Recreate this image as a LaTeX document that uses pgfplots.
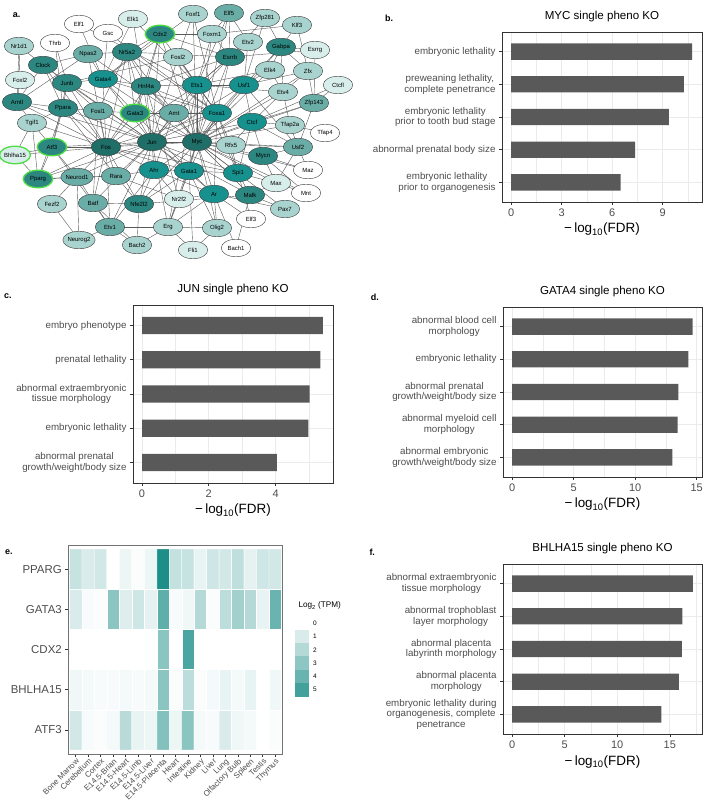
\documentclass[border=0pt]{standalone}
\usepackage{fontspec}
\setmainfont{Liberation Sans}
\usepackage{pgfplots}
\pgfplotsset{compat=1.18}
\usetikzlibrary{shapes.geometric}
\definecolor{grey20}{HTML}{333333}
\definecolor{grey30}{HTML}{4D4D4D}
\definecolor{grey35}{HTML}{595959}
\definecolor{grey92}{HTML}{EBEBEB}
\definecolor{edgec}{HTML}{5A5A5A}
\definecolor{nodeline}{HTML}{3A3A3A}
\definecolor{hl}{HTML}{4FDD45}
\definecolor{cA}{HTML}{1F6E68}
\definecolor{cB}{HTML}{2D8781}
\definecolor{cC}{HTML}{17918E}
\definecolor{cD}{HTML}{6AACA6}
\definecolor{cE}{HTML}{A8D3CE}
\definecolor{cF}{HTML}{D8EEEB}
\definecolor{cG}{HTML}{FFFFFF}
\pgfplotsset{
  colormap={tealmap}{rgb255=(255,255,255) rgb255=(24,139,133)},
  barax/.style={
    scale only axis, xbar, bar width=0.5, y dir=reverse, ymin=0.4, ymax=5.6, ytick={1,2,3,4,5},
    axis line style={draw=grey20, line width=0.7bp},
    tick style={draw=grey20, line width=0.6bp},
    major tick length=3bp, minor tick length=0pt, tick align=outside, tick pos=left,
    xmajorgrids, xminorgrids, ymajorgrids,
    major grid style={draw=grey92, line width=0.7bp},
    minor grid style={draw=grey92, line width=0.35bp},
    xticklabel style={font=\fontsize{11}{12}\selectfont, text=grey30},
    yticklabel style={font=\fontsize{9.8}{10.6}\selectfont, text=grey30, align=center},
    title style={font=\fontsize{11.6}{13}\selectfont, anchor=base, at={(axis description cs:0.5,1)}, yshift=7bp},
    xlabel={−\,log\textsubscript{10}(FDR)},
    xlabel style={font=\fontsize{13.5}{15}\selectfont, anchor=base, at={(axis description cs:0.5,0)}, yshift=-31bp},
    /pgf/number format/assume math mode=true,
  },
  netnode/.style n args={3}{only marks, mark=none, nodes near coords, point meta=explicit symbolic,
    every node near coord/.append style={anchor=center, ellipse, draw=#2, line width=#3, fill=#1,
      minimum width=29.5bp, minimum height=17.5bp, inner sep=0pt, font=\fontsize{6}{7}\selectfont, text=black}},
}
\begin{document}
\begin{tikzpicture}
\path[use as bounding box] (0,0) rectangle (709bp,801bp);

% ---------------- panel a: network ----------------
\begin{axis}[at={(0bp,541bp)}, anchor=south west, scale only axis, width=350bp, height=260bp,
  xmin=0, xmax=350, ymin=0, ymax=260, y dir=reverse, hide axis, clip=false]
\addplot[-, draw=edgec, line width=0.4bp, quiver={u=\thisrow{x2}-\thisrow{x}, v=\thisrow{y2}-\thisrow{y}}] table {
x y x2 y2
152 142 106 147
152 142 197 142
152 142 52 147
152 142 135 113
152 142 174 113
152 142 217 113
152 142 154 170
152 142 189 171
152 142 116 176
152 142 98 111
152 142 178 57
152 142 146 86
152 142 197 85
152 142 103 79
152 142 67 83
152 142 63 108
152 142 139 204
152 142 93 203
152 142 238 173
152 142 214 194
152 142 160 34
152 142 127 52
152 142 230 57
152 142 244 85
152 142 252 122
152 142 110 227
152 142 168 227
152 142 77 177
152 142 38 179
152 142 133 19
152 142 250 195
152 142 43 65
152 142 17 102
106 147 52 147
106 147 135 113
106 147 67 83
106 147 63 108
106 147 98 111
106 147 17 102
106 147 43 65
106 147 116 176
106 147 77 177
106 147 93 203
106 147 139 204
106 147 154 170
106 147 103 79
106 147 146 86
106 147 38 179
106 147 32 123
106 147 15 155
106 147 110 227
106 147 88 54
106 147 197 142
106 147 197 85
106 147 217 113
106 147 189 171
106 147 127 52
106 147 238 173
197 142 276 183
197 142 263 156
197 142 174 113
197 142 217 113
197 142 252 122
197 142 244 85
197 142 298 147
197 142 197 85
197 142 230 57
197 142 231 145
197 142 238 173
197 142 189 171
197 142 214 194
197 142 250 195
197 142 281 47
197 142 283 92
197 142 308 71
197 142 290 125
197 142 314 103
197 142 270 70
197 142 212 34
197 142 229 13
197 142 193 14
197 142 154 170
197 142 179 199
197 142 217 228
197 142 146 86
197 142 135 113
197 142 178 57
197 142 308 170
197 142 306 193
197 142 285 209
197 142 139 204
197 142 168 227
197 142 103 79
197 142 127 52
197 142 160 34
43 65 17 102
43 65 88 54
43 65 19 46
43 65 67 83
43 65 63 108
17 102 88 54
17 102 63 108
17 102 32 123
17 102 20 80
17 102 19 46
19 46 20 80
55 43 67 83
55 43 63 108
79 24 103 79
79 24 197 85
108 33 103 79
108 33 217 113
133 19 197 85
133 19 103 79
160 34 146 86
160 34 103 79
160 34 217 113
160 34 127 52
160 34 135 113
160 34 230 57
160 34 212 34
193 14 178 57
193 14 217 113
193 14 103 79
229 13 230 57
229 13 197 85
229 13 212 34
265 18 281 47
265 18 244 85
265 18 230 57
297 25 308 71
297 25 281 47
297 25 212 34
248 42 197 85
248 42 244 85
248 42 229 13
281 47 270 70
281 47 244 85
281 47 283 92
281 47 308 71
315 50 314 103
315 50 230 57
315 50 281 47
88 54 103 79
88 54 127 52
88 54 174 113
127 52 230 57
127 52 135 113
127 52 146 86
127 52 98 111
127 52 217 113
178 57 197 85
178 57 67 83
178 57 217 113
230 57 217 113
230 57 197 85
230 57 146 86
212 34 230 57
212 34 197 85
270 70 283 92
270 70 197 85
270 70 244 85
308 71 314 103
308 71 244 85
308 71 283 92
338 85 252 122
338 85 314 103
283 92 197 85
283 92 252 122
314 103 298 147
314 103 252 122
290 125 325 133
290 125 298 147
290 125 252 122
290 125 283 92
298 147 244 85
298 147 276 183
244 85 252 122
244 85 217 113
263 156 276 183
263 156 308 170
263 156 252 122
263 156 298 147
276 183 306 193
276 183 238 173
306 193 263 156
308 170 298 147
238 173 189 171
238 173 250 195
238 173 231 145
250 195 285 209
250 195 139 204
250 195 236 248
250 195 276 183
236 248 214 194
251 219 214 194
251 219 238 173
285 209 214 194
214 194 217 113
214 194 189 171
214 194 217 228
214 194 179 199
214 194 168 227
217 228 168 227
217 228 193 250
217 228 189 171
193 250 168 227
193 250 189 171
168 227 197 85
168 227 189 171
168 227 179 199
168 227 110 227
179 199 146 86
179 199 154 170
179 199 116 176
139 204 137 245
139 204 154 170
139 204 93 203
139 204 189 171
139 204 116 176
137 245 110 227
137 245 93 203
137 245 168 227
110 227 79 240
110 227 93 203
110 227 77 177
110 227 154 170
79 240 77 177
79 240 52 204
52 204 77 177
77 177 38 179
77 177 116 176
77 177 52 147
38 179 52 147
38 179 15 155
38 179 32 123
38 179 63 108
38 179 116 176
15 155 52 147
15 155 32 123
52 147 32 123
52 147 93 203
52 147 63 108
52 147 67 83
32 123 63 108
63 108 98 111
63 108 67 83
63 108 116 176
67 83 98 111
67 83 135 113
67 83 103 79
98 111 135 113
98 111 93 203
135 113 146 86
135 113 103 79
135 113 217 113
135 113 189 171
135 113 174 113
103 79 146 86
103 79 217 113
146 86 217 113
146 86 174 113
146 86 197 85
174 113 154 170
174 113 217 113
197 85 244 85
197 85 217 113
197 85 189 171
197 85 238 173
189 171 154 170
189 171 217 113
116 176 154 170
231 145 252 122
231 145 298 147
231 145 217 113
154 170 214 194
252 122 238 173
252 122 298 147
217 113 238 173
};
\addplot[netnode={cA}{nodeline}{0.4bp}] table[meta=label] {
x y label
106 147 Fos
152 142 Jun
197 142 Myc
};
\addplot[netnode={cB}{nodeline}{0.4bp}] table[meta=label] {
x y label
43 65 Clock
17 102 Arntl
67 83 Junb
63 108 Ppara
127 52 Nr5a2
230 57 Esrrb
146 86 Hnf4a
263 156 Mycn
250 195 Mafk
139 204 Nfe2l2
281 47 Gabpa
};
\addplot[netnode={cC}{nodeline}{0.4bp}] table[meta=label] {
x y label
103 79 Gata4
197 85 Ets1
244 85 Usf1
217 113 Foxa1
252 122 Ctcf
154 170 Ahr
189 171 Gata1
238 173 Spi1
214 194 Ar
};
\addplot[netnode={cD}{nodeline}{0.4bp}] table[meta=label] {
x y label
98 111 Fosl1
174 113 Arnt
93 203 Batf
110 227 Etv1
77 177 Neurod1
298 147 Usf2
314 103 Zfp143
88 54 Npas2
116 176 Rara
229 13 Elf5
};
\addplot[netnode={cE}{nodeline}{0.4bp}] table[meta=label] {
x y label
193 14 Foxf1
178 57 Fosl2
212 34 Foxm1
248 42 Etv2
270 70 Elk4
308 71 Zfx
283 92 Etv4
290 125 Tfap2a
32 123 Tgif1
19 46 Nr1d1
265 18 Zfp281
297 25 Klf3
231 145 Rfx5
285 209 Pax7
52 204 Fezf2
168 227 Erg
217 228 Olig2
79 240 Neurog2
137 245 Bach2
};
\addplot[netnode={cF}{nodeline}{0.4bp}] table[meta=label] {
x y label
20 80 Foxl2
315 50 Esrrg
338 85 Ctcfl
276 183 Max
179 199 Nr2f2
193 250 Fli1
133 19 Elk1
};
\addplot[netnode={cG}{nodeline}{0.4bp}] table[meta=label] {
x y label
79 24 Elf1
55 43 Thrb
108 33 Gsc
325 133 Tfap4
308 170 Maz
306 193 Mnt
251 219 Elf3
236 248 Bach1
};
\addplot[netnode={cB}{hl}{1.3bp}] table[meta=label] {
x y label
160 34 Cdx2
135 113 Gata3
52 147 Atf3
38 179 Pparg
};
\addplot[netnode={cF}{hl}{1.3bp}] table[meta=label] {
x y label
15 155 Bhlha15
};
\end{axis}

% ---------------- panel b ----------------
\begin{axis}[barax, at={(502bp,599bp)}, anchor=south west, width=200bp, height=170bp,
  xmin=-0.54, xmax=11.34, xtick={0,3,6,9}, minor xtick={1.5,4.5,7.5,10.5},
  title={MYC single pheno KO},
  yticklabels={{embryonic lethality},{preweaning lethality,\\complete penetrance},{embryonic lethality\\prior to tooth bud stage},{abnormal prenatal body size},{embryonic lethality\\prior to organogenesis}}]
\addplot[fill=grey35, draw=none] coordinates {(10.76,1) (10.27,2) (9.37,3) (7.37,4) (6.5,5)};
\end{axis}

% ---------------- panel c ----------------
\begin{axis}[barax, at={(133bp,318bp)}, anchor=south west, width=200bp, height=178bp,
  xmin=-0.27, xmax=5.72, xtick={0,2,4}, minor xtick={1,3,5},
  title={JUN single pheno KO},
  yticklabels={{embryo phenotype},{prenatal lethality},{abnormal extraembryonic\\tissue morphology},{embryonic lethality},{abnormal prenatal\\growth/weight/body size}}]
\addplot[fill=grey35, draw=none] coordinates {(5.42,1) (5.34,2) (5.02,3) (4.98,4) (4.04,5)};
\end{axis}

% ---------------- panel d ----------------
\begin{axis}[barax, at={(503bp,324bp)}, anchor=south west, width=199bp, height=170bp,
  xmin=-0.735, xmax=15.435, xtick={0,5,10,15}, minor xtick={2.5,7.5,12.5},
  title={GATA4 single pheno KO},
  yticklabels={{abnormal blood cell\\morphology},{embryonic lethality},{abnormal prenatal\\growth/weight/body size},{abnormal myeloid cell\\morphology},{abnormal embryonic\\growth/weight/body size}}]
\addplot[fill=grey35, draw=none] coordinates {(14.68,1) (14.32,2) (13.51,3) (13.46,4) (13.03,5)};
\end{axis}

% ---------------- panel f ----------------
\begin{axis}[barax, at={(503bp,67bp)}, anchor=south west, width=199bp, height=170bp,
  xmin=-0.86, xmax=18.06, xtick={0,5,10,15}, minor xtick={2.5,7.5,12.5,17.5},
  title={BHLHA15 single pheno KO},
  yticklabels={{abnormal extraembryonic\\tissue morphology},{abnormal trophoblast\\layer morphology},{abnormal placenta\\labyrinth morphology},{abnormal placenta\\morphology},{embryonic lethality during\\organogenesis, complete\\penetrance}}]
\addplot[fill=grey35, draw=none] coordinates {(17.19,1) (16.2,2) (16.14,3) (15.85,4) (14.2,5)};
\end{axis}

% ---------------- panel e: heatmap ----------------
\begin{axis}[at={(68.3bp,47bp)}, anchor=south west, scale only axis, width=214.4bp, height=209bp,
  xmin=0.4, xmax=17.6, ymin=0.4, ymax=5.6,
  xtick={1,...,17}, ytick={1,...,5}, tick pos=left,
  xticklabels={Bone Marrow,Cerebellum,Cortex,E14.5-Brian,E14.5-Heart,E14.5-Limb,E14.5-Liver,E14.5-Placenta,Heart,Intestine,Kidney,Liver,Lung,Olfactory Bulb,Spleen,Testis,Thymus},
  yticklabels={ATF3,BHLHA15,CDX2,GATA3,PPARG},
  xticklabel style={rotate=45, anchor=north east, font=\fontsize{8}{9}\selectfont, text=grey30, inner sep=0.5bp},
  yticklabel style={font=\fontsize{11.5}{12}\selectfont, text=grey30},
  axis line style={draw=black!55, line width=0.8bp},
  tick style={draw=grey20, line width=0.6bp}, major tick length=3bp, tick align=outside,
  point meta min=0, point meta max=6.2]
\addplot[matrix plot*, mesh/cols=17, mesh/rows=5, point meta=explicit, shader=faceted, faceted color=white, line width=0.4bp] table[meta=c] {
x y c
1 1 1.2
2 1 0.2
3 1 0.1
4 1 0.3
5 1 1.9
6 1 0.6
7 1 0.5
8 1 3.3
9 1 0.5
10 1 3.1
11 1 0.3
12 1 0.2
13 1 1.0
14 1 0.4
15 1 0.3
16 1 0
17 1 0.1
1 2 0.4
2 2 0.3
3 2 0.2
4 2 0.2
5 2 0.3
6 2 0.2
7 2 0.3
8 2 3.1
9 2 0.1
10 2 1.8
11 2 0.1
12 2 0.3
13 2 0.6
14 2 0.3
15 2 0.6
16 2 0
17 2 0.4
1 3 0
2 3 0
3 3 0
4 3 0
5 3 0
6 3 0
7 3 0.05
8 3 3.1
9 3 0
10 3 4.8
11 3 0
12 3 0
13 3 0
14 3 0
15 3 0
16 3 0
17 3 0
1 4 1.0
2 4 0.2
3 4 0.1
4 4 3.1
5 4 0.9
6 4 1.3
7 4 0.7
8 4 4.3
9 4 0.2
10 4 0.4
11 4 2.0
12 4 0.1
13 4 1.8
14 4 2.5
15 4 2.0
16 4 0.6
17 4 4.0
1 5 1.5
2 5 1.0
3 5 1.2
4 5 0
5 5 0.5
6 5 0.1
7 5 0.5
8 5 6.0
9 5 1.6
10 5 1.5
11 5 0.6
12 5 1.3
13 5 1.2
14 5 1.7
15 5 0.7
16 5 1.3
17 5 1.2
};
\end{axis}

% ---------------- heatmap legend ----------------
\begin{axis}[at={(295bp,105bp)}, anchor=south west, scale only axis, width=12.7bp, height=79.2bp,
  xmin=0, xmax=1, ymin=-0.5, ymax=5.5, y dir=reverse, clip=false,
  axis line style={draw=none}, xtick=\empty, ytick={0,...,5}, major tick length=0pt,
  yticklabel pos=right, yticklabel style={font=\fontsize{6.5}{7}\selectfont, text=black, xshift=2bp},
  /pgf/number format/assume math mode=true,
  title={Log\textsubscript{2} (TPM)},
  title style={font=\fontsize{8.2}{9}\selectfont, anchor=base west, at={(axis description cs:0,1)}, yshift=3bp},
  point meta min=0, point meta max=6.2]
\addplot[scatter, only marks, mark=square*, mark size=6.35bp, point meta=explicit,
  scatter/use mapped color={draw=mapped color, fill=mapped color}] table[meta=c] {
x y c
0.5 0 0
0.5 1 1
0.5 2 2
0.5 3 3
0.5 4 4
0.5 5 5
};
\end{axis}

% panel letters
\node[anchor=base west, font=\fontsize{9}{10}\bfseries, inner sep=0] at (12.7bp,783.5bp) {a.};
\node[anchor=base west, font=\fontsize{9}{10}\bfseries, inner sep=0] at (385bp,779.3bp) {b.};
\node[anchor=base west, font=\fontsize{9}{10}\bfseries, inner sep=0] at (4bp,502.5bp) {c.};
\node[anchor=base west, font=\fontsize{9}{10}\bfseries, inner sep=0] at (370.7bp,500.5bp) {d.};
\node[anchor=base west, font=\fontsize{9}{10}\bfseries, inner sep=0] at (5bp,246bp) {e.};
\node[anchor=base west, font=\fontsize{9}{10}\bfseries, inner sep=0] at (369.3bp,245bp) {f.};
\end{tikzpicture}
\end{document}
